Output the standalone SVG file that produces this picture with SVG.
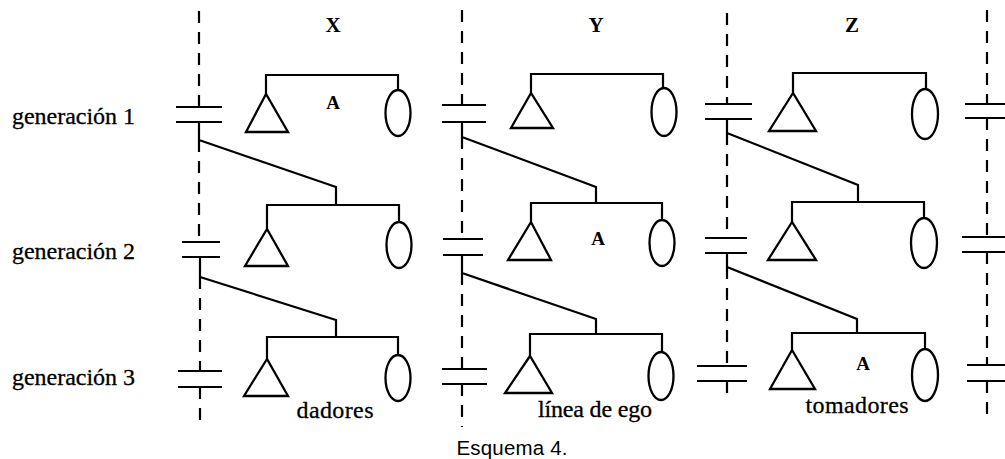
<svg xmlns="http://www.w3.org/2000/svg" width="1005" height="459" viewBox="0 0 1005 459">
<style>
.ln{stroke:#000;stroke-width:2.2;fill:none}
.dash{stroke:#000;stroke-width:2.2;fill:none;stroke-dasharray:12 9}
.sym{stroke:#000;stroke-width:2.3;fill:#fff}
.gen{font-family:"Liberation Serif",serif;font-size:24px;fill:#000;stroke:#000;stroke-width:0.3}
.hd{font-family:"Liberation Serif",serif;font-size:21px;font-weight:bold;fill:#000;text-anchor:middle}
.ego{font-family:"Liberation Serif",serif;font-size:19px;font-weight:bold;fill:#000;text-anchor:middle}
.lab{font-family:"Liberation Serif",serif;font-size:24px;fill:#000;text-anchor:middle;stroke:#000;stroke-width:0.3}
.cap{font-family:"Liberation Sans",Arial,sans-serif;font-size:20.5px;fill:#000;text-anchor:middle}
</style>
<rect width="1005" height="459" fill="#fff"/>

<g id="labels">
<text class="gen" x="12" y="124" textLength="123">generación 1</text>
<text class="gen" x="12" y="259" textLength="123">generación 2</text>
<text class="gen" x="12" y="385" textLength="123">generación 3</text>
<text class="hd" x="333" y="32">X</text>
<text class="hd" x="596" y="32">Y</text>
<text class="hd" x="852" y="32">Z</text>
<text class="lab" x="335" y="418" textLength="77">dadores</text>
<text class="lab" x="595" y="417" textLength="114">línea de ego</text>
<text class="lab" x="857" y="413" textLength="103">tomadores</text>
<text class="cap" x="512" y="455" textLength="111">Esquema 4.</text>
</g>

<g id="connectors">
<path class="dash" d="M199,11 V107 M199,140 V242 M200,277 V371 M200,387 V423"/>
<path class="dash" d="M462,10 V105 M462,137 V239 M462,273 V369 M462,384 V427"/>
<path class="dash" d="M727,13 V104 M727,133 V238 M727,267 V366 M727,381 V400"/>
<path class="dash" d="M987,10 V104 M987,118 V237 M987,252 V365 M987,381 V421"/>
<path class="ln" d="M199,122 V140 L336,187 V205"/>
<path class="ln" d="M200,257 V277 L336,320 V337"/>
<path class="ln" d="M462,122 V137 L596,187 V203"/>
<path class="ln" d="M462,255 V273 L596,319 V334"/>
<path class="ln" d="M727,119 V133 L858,185 V202"/>
<path class="ln" d="M727,253 V267 L857,319 V333"/>
</g>

<g id="alliance-x1"><path class="ln" d="M176,107 H222 M176,122 H222"/></g>
<g id="alliance-x2"><path class="ln" d="M182,242 H220 M182,257 H220"/></g>
<g id="alliance-x3"><path class="ln" d="M178,371 H222 M178,387 H222"/></g>
<g id="alliance-y1"><path class="ln" d="M442,105 H486 M442,122 H486"/></g>
<g id="alliance-y2"><path class="ln" d="M443,239 H483 M443,255 H483"/></g>
<g id="alliance-y3"><path class="ln" d="M442,369 H487 M442,384 H487"/></g>
<g id="alliance-z1"><path class="ln" d="M705,104 H752 M705,119 H752"/></g>
<g id="alliance-z2"><path class="ln" d="M705,238 H747 M705,253 H747"/></g>
<g id="alliance-z3"><path class="ln" d="M697,366 H747 M697,381 H747"/></g>
<g id="alliance-r1"><path class="ln" d="M965,104 H1005 M965,118 H1005"/></g>
<g id="alliance-r2"><path class="ln" d="M962,237 H1005 M962,252 H1005"/></g>
<g id="alliance-r3"><path class="ln" d="M967,365 H1005 M967,381 H1005"/></g>

<g id="family-x1">
<path class="ln" d="M266,94 V75 H398 V90"/>
<polygon class="sym" points="266,94 246,132 288,132"/>
<ellipse class="sym" cx="398" cy="113" rx="12.5" ry="23"/>
<text class="ego" x="333" y="109">A</text>
</g>
<g id="family-x2">
<path class="ln" d="M267,229 V205 H399 V222"/>
<polygon class="sym" points="267,229 245,266 288,266"/>
<ellipse class="sym" cx="399" cy="245" rx="12.5" ry="23"/>
</g>
<g id="family-x3">
<path class="ln" d="M267,359 V337 H398 V355"/>
<polygon class="sym" points="267,359 244,396 288,396"/>
<ellipse class="sym" cx="398" cy="378" rx="12.5" ry="23"/>
</g>

<g id="family-y1">
<path class="ln" d="M531,93 V74 H663 V88"/>
<polygon class="sym" points="531,93 511,128 553,128"/>
<ellipse class="sym" cx="664" cy="112" rx="12.5" ry="24"/>
</g>
<g id="family-y2">
<path class="ln" d="M531,222 V203 H662 V220"/>
<polygon class="sym" points="531,222 508,260 551,260"/>
<ellipse class="sym" cx="662" cy="243" rx="12.5" ry="23"/>
<text class="ego" x="598" y="245">A</text>
</g>
<g id="family-y3">
<path class="ln" d="M530,356 V334 H662 V352"/>
<polygon class="sym" points="530,356 505,393 552,393"/>
<ellipse class="sym" cx="661" cy="376" rx="12.5" ry="24"/>
</g>

<g id="family-z1">
<path class="ln" d="M793,93 V73 H926 V88"/>
<polygon class="sym" points="793,93 769,131 816,131"/>
<ellipse class="sym" cx="925" cy="114" rx="13" ry="25"/>
</g>
<g id="family-z2">
<path class="ln" d="M792,222 V202 H924 V218"/>
<polygon class="sym" points="792,222 768,260 816,260"/>
<ellipse class="sym" cx="924" cy="243" rx="13" ry="25"/>
</g>
<g id="family-z3">
<path class="ln" d="M792,350 V333 H925 V349"/>
<polygon class="sym" points="792,350 770,389 815,389"/>
<ellipse class="sym" cx="925" cy="375" rx="13" ry="26"/>
<text class="ego" x="863" y="370">A</text>
</g>
</svg>
